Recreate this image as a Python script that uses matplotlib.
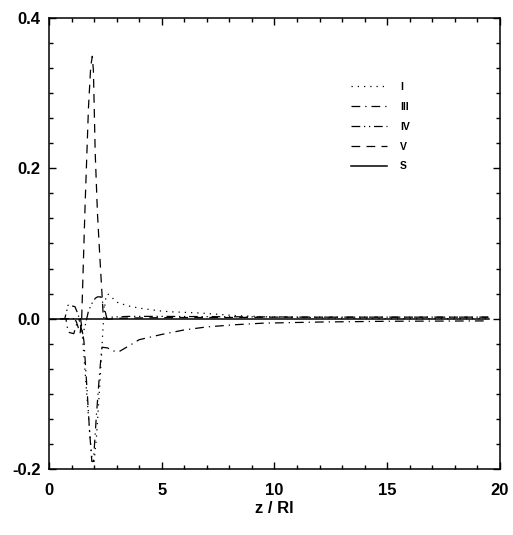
import numpy as np
import matplotlib
matplotlib.use('Agg')
import matplotlib.pyplot as plt
from matplotlib.ticker import MultipleLocator

plt.rcParams['font.family'] = ['Liberation Sans', 'DejaVu Sans']
plt.rcParams['font.weight'] = 'bold'
plt.rcParams['axes.unicode_minus'] = False

# curve I (dotted)
zI = [0.5, 1.3, 1.45, 1.55, 1.7, 1.8, 1.9, 2.0, 2.1, 2.25, 2.4, 2.5, 2.6, 2.8, 3.0, 3.5, 4.0, 5.0, 5.5, 6.7, 8.3, 10.0, 12.0, 15.0, 19.5]
vI = [0.0, 0.0, -0.01, -0.05, -0.11, -0.15, -0.185, -0.19, -0.16, -0.09, -0.01, 0.025, 0.033, 0.028, 0.022, 0.017, 0.014, 0.010, 0.009, 0.0075, 0.004, 0.002, 0.001, 0.0, 0.0]

# curve III (dash-dot)
zIII = [0.5, 0.75, 0.85, 1.1, 1.25, 1.4, 1.55, 1.7, 1.8, 1.9, 1.97, 2.1, 2.25, 2.35, 2.6, 2.85, 3.1, 3.5, 4.0, 5.0, 5.5, 6.0, 7.0, 8.3, 9.5, 12.0, 15.0, 19.5]
vIII = [0.0, 0.0, -0.018, -0.02, -0.005, 0.0, -0.03, -0.1, -0.15, -0.19, -0.19, -0.13, -0.07, -0.038, -0.039, -0.043, -0.044, -0.037, -0.028, -0.021, -0.018, -0.015, -0.011, -0.008, -0.006, -0.0045, -0.0035, -0.003]

# curve IV (dash-dot-dot)
zIV = [0.5, 0.7, 0.85, 1.15, 1.3, 1.4, 1.5, 1.6, 1.75, 1.9, 2.05, 2.15, 2.3, 2.45, 2.57, 2.8, 3.5, 5.0, 8.0, 12.0, 19.5]
vIV = [0.0, 0.0, 0.018, 0.016, 0.005, -0.01, -0.02, -0.01, 0.01, 0.02, 0.027, 0.029, 0.029, 0.015, 0.0, 0.002, 0.003, 0.003, 0.0025, 0.002, 0.002]

# curve V (dashed)
zV = [0.5, 0.9, 1.2, 1.3, 1.38, 1.45, 1.6, 1.75, 1.85, 1.92, 1.97, 2.05, 2.15, 2.25, 2.41, 2.6, 3.0, 4.0, 6.0, 8.0, 10.0, 14.0, 19.5]
vV = [0.0, 0.0, -0.003, -0.012, -0.02, 0.0, 0.15, 0.28, 0.335, 0.349, 0.33, 0.22, 0.14, 0.085, 0.002, -0.001, 0.0005, 0.001, 0.0015, 0.0015, 0.002, 0.002, 0.002]

# curve S (solid)
zS = [0.0, 19.5]
vS = [0.0, 0.0]

fig = plt.figure(figsize=(5.13, 5.35), dpi=100)
ax = fig.add_axes([0.0955, 0.1234, 0.879, 0.843])

lw = 0.9
ax.plot(zI, vI, color='black', lw=lw, dashes=(1, 4), label='I')
ax.plot(zIII, vIII, color='black', lw=lw, dashes=(7, 4, 1, 4), label='III')
ax.plot(zIV, vIV, color='black', lw=lw, dashes=(7, 3, 1, 3, 1, 3), label='IV')
ax.plot(zV, vV, color='black', lw=lw, dashes=(7, 5), label='V')
ax.plot(zS, vS, color='black', lw=1.1, label='S')

ax.set_xlim(0, 20)
ax.set_ylim(-0.2, 0.4)
ax.xaxis.set_major_locator(MultipleLocator(5))
ax.xaxis.set_minor_locator(MultipleLocator(1))
ax.yaxis.set_major_locator(MultipleLocator(0.2))
ax.yaxis.set_minor_locator(MultipleLocator(0.2 / 6))
ax.set_yticks([-0.2, 0.0, 0.2, 0.4])
ax.set_yticklabels(['-0.2', '0.0', '0.2', '0.4'])

ax.tick_params(which='both', direction='in', top=True, right=True, width=1.0)
ax.tick_params(which='major', length=5)
ax.tick_params(which='minor', length=3)
ax.tick_params(axis='x', which='major', pad=10, labelsize=12)
ax.tick_params(axis='y', which='major', pad=6, labelsize=12)
for sp in ax.spines.values():
    sp.set_linewidth(1.1)

ax.set_xlabel('z / Rl', fontsize=12, fontweight='bold', labelpad=2)

leg = ax.legend(loc='upper left', bbox_to_anchor=(0.658, 0.870), frameon=False,
                fontsize=7.5, handlelength=3.5, handletextpad=1.2,
                labelspacing=0.95, borderpad=0)
for t in leg.get_texts():
    t.set_fontweight('bold')

fig.savefig('out.png', dpi=100)
